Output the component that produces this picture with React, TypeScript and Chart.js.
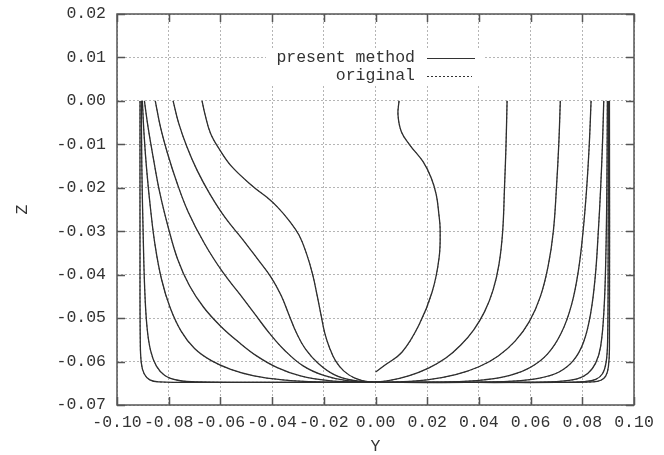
import { useEffect, useRef } from "react";
import { Chart, registerables } from "chart.js";

Chart.register(...registerables);

type Pt = [number, number]; // [Y, Z]

// x-axis (Y) and y-axis (Z) tick ranges
const yTickMin = -0.1;
const yTickMax = 0.1;
const yTickStep = 0.02;
const zTickMin = -0.07;
const zTickMax = 0.02;
const zTickStep = 0.01;

const legendLabels = ["present method", "original"];

// Left family
const L1: Pt[] = [[-0.0911, 0], [-0.0911, -0.035], [-0.091, -0.055], [-0.0906, -0.0603], [-0.0895, -0.0628], [-0.0873, -0.0642], [-0.0835, -0.0647], [-0.075, -0.0648], [-0.04, -0.0648], [0, -0.0648]];
const L2: Pt[] = [[-0.0906, 0], [-0.0904, -0.015], [-0.0899, -0.03], [-0.0893, -0.043], [-0.0884, -0.052], [-0.087, -0.0575], [-0.0848, -0.061], [-0.0815, -0.0632], [-0.0765, -0.0643], [-0.068, -0.0647], [-0.04, -0.0648], [0, -0.0648]];
const L3: Pt[] = [[-0.0902, 0], [-0.0895, -0.008], [-0.0885, -0.016], [-0.087, -0.025], [-0.0852, -0.0335], [-0.0828, -0.041], [-0.0795, -0.0475], [-0.0752, -0.053], [-0.07, -0.057], [-0.0635, -0.0598], [-0.056, -0.0618], [-0.047, -0.0633], [-0.036, -0.0642], [-0.022, -0.0647], [-0.005, -0.0648]];
const L4: Pt[] = [[-0.0894, 0], [-0.088, -0.006], [-0.086, -0.013], [-0.0835, -0.021], [-0.08, -0.0295], [-0.0765, -0.0365], [-0.072, -0.0425], [-0.0665, -0.0475], [-0.06, -0.0518], [-0.053, -0.0555], [-0.046, -0.0587], [-0.038, -0.0614], [-0.029, -0.0633], [-0.018, -0.0644], [-0.006, -0.0648]];
const L5: Pt[] = [[-0.0852, 0], [-0.0832, -0.006], [-0.0805, -0.012], [-0.077, -0.0185], [-0.0725, -0.0255], [-0.066, -0.033], [-0.059, -0.0395], [-0.0525, -0.0445], [-0.0465, -0.0492], [-0.041, -0.0535], [-0.035, -0.0575], [-0.028, -0.061], [-0.02, -0.0632], [-0.011, -0.0644], [0, -0.0648]];
const L6: Pt[] = [[-0.0783, 0], [-0.0762, -0.005], [-0.073, -0.0105], [-0.069, -0.016], [-0.064, -0.0215], [-0.058, -0.027], [-0.0515, -0.0318], [-0.0455, -0.0365], [-0.0405, -0.0405], [-0.0365, -0.0448], [-0.0335, -0.0492], [-0.0305, -0.0535], [-0.027, -0.0572], [-0.022, -0.0605], [-0.016, -0.063], [-0.009, -0.0643], [0, -0.0648]];
const L7: Pt[] = [[-0.0671, 0], [-0.066, -0.003], [-0.0638, -0.0075], [-0.06, -0.0115], [-0.0555, -0.0152], [-0.0474, -0.0197], [-0.042, -0.0222], [-0.038, -0.0244], [-0.0335, -0.0275], [-0.0295, -0.031], [-0.0265, -0.0355], [-0.0243, -0.04], [-0.0225, -0.045], [-0.021, -0.0495], [-0.0196, -0.0535], [-0.0178, -0.0568], [-0.0155, -0.0598], [-0.0122, -0.0622], [-0.008, -0.0638], [-0.003, -0.0646], [0.005, -0.0648]];

// Centre curve
const C0: Pt[] = [[0.0091, 0], [0.0087, -0.0032], [0.01, -0.0071], [0.0132, -0.0101], [0.0184, -0.014], [0.0216, -0.0178], [0.0235, -0.0216], [0.0245, -0.026], [0.025, -0.0295], [0.0246, -0.0361], [0.0219, -0.044], [0.0168, -0.0516], [0.0103, -0.0578], [0.0037, -0.0608], [0, -0.0624]];

// Right family
const R1: Pt[] = [[0.0509, 0], [0.0505, -0.01], [0.0499, -0.02], [0.0492, -0.03], [0.0478, -0.0375], [0.0455, -0.0435], [0.0422, -0.0485], [0.038, -0.0527], [0.033, -0.0562], [0.0272, -0.0592], [0.0205, -0.0615], [0.0128, -0.0633], [0.005, -0.0644], [-0.002, -0.0648]];
const R2: Pt[] = [[0.0715, 0], [0.0709, -0.01], [0.07, -0.02], [0.0688, -0.03], [0.0668, -0.038], [0.0638, -0.045], [0.0595, -0.0508], [0.054, -0.0553], [0.0475, -0.0587], [0.04, -0.0612], [0.031, -0.063], [0.02, -0.0642], [0.008, -0.0647], [0, -0.0648]];
const R3: Pt[] = [[0.0834, 0], [0.0827, -0.01], [0.0817, -0.02], [0.0803, -0.03], [0.0785, -0.039], [0.0758, -0.047], [0.0718, -0.0535], [0.0665, -0.0583], [0.06, -0.0613], [0.052, -0.0632], [0.042, -0.0642], [0.028, -0.0647], [0.01, -0.0648]];
const R4: Pt[] = [[0.0883, 0], [0.0878, -0.01], [0.0871, -0.02], [0.0862, -0.03], [0.085, -0.0405], [0.0832, -0.049], [0.0805, -0.0555], [0.0765, -0.0598], [0.071, -0.0624], [0.0635, -0.0638], [0.053, -0.0645], [0.035, -0.0648], [0.01, -0.0648]];
const R5: Pt[] = [[0.0897, 0], [0.0895, -0.02], [0.0891, -0.036], [0.0884, -0.048], [0.0871, -0.0565], [0.0852, -0.0603], [0.0822, -0.0627], [0.078, -0.064], [0.07, -0.0646], [0.055, -0.0648], [0.03, -0.0648], [0, -0.0648]];
const R6: Pt[] = [[0.0901, 0], [0.09, -0.035], [0.0898, -0.055], [0.0892, -0.0602], [0.0878, -0.0628], [0.0852, -0.0641], [0.081, -0.0646], [0.07, -0.0648], [0.04, -0.0648], [0, -0.0648]];
const R7: Pt[] = [[0.0905, 0], [0.0905, -0.057], [0.0901, -0.0612], [0.0891, -0.0633], [0.0872, -0.0643], [0.084, -0.0647], [0.075, -0.0648], [0.04, -0.0648], [0, -0.0648]];

const presentCurves: Pt[][] = [L1, L2, L3, L4, L5, L6, L7, C0, R1, R2, R3, R4, R5, R6, R7];
// the "original" results coincide with the present method to plotting accuracy
const originalCurves: Pt[][] = presentCurves;

const FONT = "'Liberation Mono', 'DejaVu Sans Mono', monospace";
const FONT_SIZE = 16.5;
const TEXT = "#333";

const fmt = (v: number) => (Math.abs(v) < 1e-9 ? "0.00" : v.toFixed(2));

const framePlugin = {
  id: "gnuFrame",
  beforeDatasetsDraw(chart: any) {
    const { ctx, chartArea } = chart;
    // opaque key box
    ctx.save();
    ctx.fillStyle = "#fff";
    ctx.fillRect(chartArea.left + 149, chartArea.top + 35, 218, 36);
    ctx.restore();
  },
  afterDatasetsDraw(chart: any) {
    const { ctx, chartArea, scales } = chart;
    const { left, right, top, bottom } = chartArea;
    const xs = scales.x;
    const ys = scales.y;
    ctx.save();
    ctx.strokeStyle = "#555";
    ctx.lineWidth = 1.5;
    ctx.strokeRect(left, top, right - left, bottom - top);
    ctx.beginPath();
    xs.ticks.forEach((t: any) => {
      const p = Math.round(xs.getPixelForValue(t.value)) + 0.5;
      ctx.moveTo(p, bottom);
      ctx.lineTo(p, bottom - 8);
      ctx.moveTo(p, top);
      ctx.lineTo(p, top + 8);
    });
    ys.ticks.forEach((t: any) => {
      const p = Math.round(ys.getPixelForValue(t.value)) + 0.5;
      ctx.moveTo(left, p);
      ctx.lineTo(left + 8, p);
      ctx.moveTo(right, p);
      ctx.lineTo(right - 8, p);
    });
    ctx.stroke();

    // key
    const kx = left + 298;
    const ky1 = top + 44;
    const ky2 = top + 62;
    ctx.font = `${FONT_SIZE}px ${FONT}`;
    ctx.fillStyle = TEXT;
    ctx.textAlign = "right";
    ctx.textBaseline = "middle";
    ctx.fillText(legendLabels[0], kx, ky1);
    ctx.fillText(legendLabels[1], kx, ky2);
    ctx.strokeStyle = "#333";
    ctx.lineWidth = 1.2;
    ctx.beginPath();
    ctx.moveTo(kx + 12, ky1 + 0.5);
    ctx.lineTo(kx + 60, ky1 + 0.5);
    ctx.stroke();
    ctx.setLineDash([2, 2]);
    ctx.beginPath();
    ctx.moveTo(kx + 12, ky2 + 0.5);
    ctx.lineTo(kx + 57, ky2 + 0.5);
    ctx.stroke();
    ctx.restore();
  },
};

export default function App() {
  const ref = useRef<HTMLCanvasElement>(null);

  useEffect(() => {
    if (!ref.current) return;
    const datasets: any[] = [];
    presentCurves.forEach((c, i) => {
      datasets.push({
        label: i === 0 ? legendLabels[0] : "",
        data: c.map(([y, z]) => ({ x: y, y: z })),
        showLine: true,
        borderColor: "#2e2e2e",
        borderWidth: 1.3,
        pointRadius: 0,
        tension: 0.4,
        fill: false,
      });
    });
    originalCurves.forEach((c, i) => {
      datasets.push({
        label: i === 0 ? legendLabels[1] : "",
        data: c.map(([y, z]) => ({ x: y, y: z })),
        showLine: true,
        borderColor: "#666",
        borderWidth: 1,
        borderDash: [2, 2],
        pointRadius: 0,
        tension: 0.4,
        fill: false,
      });
    });

    const chart = new Chart(ref.current, {
      type: "scatter",
      data: { datasets },
      options: {
        responsive: false,
        animation: false,
        devicePixelRatio: 1,
        layout: { padding: { top: 14, right: 30, left: 0, bottom: 0 } },
        plugins: { legend: { display: false }, tooltip: { enabled: false } },
        scales: {
          x: {
            type: "linear",
            min: yTickMin,
            max: yTickMax,
            afterFit: (s: any) => {
              s.height = 50;
              s.paddingLeft = 0;
              s.paddingRight = 0;
            },
            ticks: {
              stepSize: yTickStep,
              autoSkip: false,
              maxRotation: 0,
              minRotation: 0,
              padding: 8,
              color: TEXT,
              font: { family: FONT, size: FONT_SIZE },
              callback: (v: any) => fmt(Number(v)),
            },
            grid: { color: "#b5b5b5", lineWidth: 1, drawTicks: false },
            border: { display: false, dash: [2, 2] },
            title: {
              display: true,
              text: "Y",
              color: TEXT,
              font: { family: FONT, size: FONT_SIZE, lineHeight: 1 },
              padding: { top: 0, bottom: 0 },
            },
          },
          y: {
            type: "linear",
            min: zTickMin,
            max: zTickMax,
            afterFit: (s: any) => {
              s.width = 117;
              s.paddingTop = 0;
              s.paddingBottom = 0;
            },
            ticks: {
              stepSize: zTickStep,
              autoSkip: false,
              padding: 11,
              color: TEXT,
              font: { family: FONT, size: FONT_SIZE },
              callback: (v: any) => fmt(Number(v)),
            },
            grid: { color: "#b5b5b5", lineWidth: 1, drawTicks: false },
            border: { display: false, dash: [2, 2] },
            title: {
              display: true,
              text: "Z",
              color: TEXT,
              font: { family: FONT, size: FONT_SIZE, lineHeight: 1 },
              padding: { top: 14, bottom: 0 },
            },
          },
        },
      },
      plugins: [framePlugin],
    });
    return () => chart.destroy();
  }, []);

  return (
    <div style={{ position: "absolute", left: 0, top: 0, width: 664, height: 455, background: "#fff" }}>
      <canvas ref={ref} width={664} height={455} style={{ width: 664, height: 455 }} />
    </div>
  );
}
